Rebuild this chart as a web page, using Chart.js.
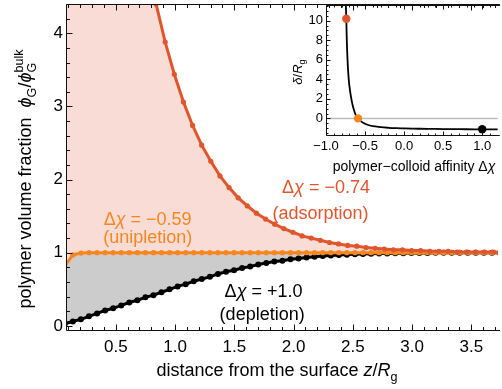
<!DOCTYPE html>
<html><head><meta charset="utf-8">
<script src="https://cdn.jsdelivr.net/npm/chart.js@4.4.0/dist/chart.umd.min.js"></script>
<style>
html,body{margin:0;padding:0;background:#fff;}
#wrap{position:relative;width:502px;height:389px;overflow:hidden;background:#fff;}
#main{position:absolute;left:0;top:0;}
#inset{position:absolute;left:280px;top:0;}
</style></head><body>
<div id="wrap"><canvas id="main" width="502" height="389"></canvas><canvas id="inset" width="222" height="175"></canvas></div>
<script>
// ---------- data ----------
// distance from the surface z/Rg (grid for depletion & unipletion curves)
const zGrid = [0.070,0.138,0.206,0.274,0.342,0.410,0.478,0.546,0.614,0.682,0.750,0.818,0.886,0.954,1.022,1.090,1.158,1.226,1.294,1.362,1.430,1.498,1.566,1.634,1.702,1.770,1.838,1.906,1.974,2.042,2.110,2.178,2.246,2.314,2.382,2.450,2.518,2.586,2.654,2.722,2.790,2.858,2.926,2.994,3.062,3.130,3.198,3.266,3.334,3.402,3.470,3.538,3.606,3.674,3.742];
// Δχ = +1.0 (depletion)
const phiDepletion = [0.03,0.06,0.09,0.13,0.17,0.21,0.24,0.28,0.32,0.35,0.39,0.42,0.46,0.50,0.54,0.57,0.61,0.64,0.67,0.71,0.74,0.76,0.79,0.81,0.84,0.86,0.88,0.89,0.91,0.92,0.935,0.945,0.955,0.962,0.968,0.974,0.979,0.983,0.986,0.989,0.991,0.993,0.994,0.995,0.996,0.997,0.998,0.998,0.999,0.999,0.999,1.0,1.0,1.0,1.0];
// Δχ = −0.59 (unipletion)
const phiUnipletion = [0.82,0.97,0.995,1,1,1,1,1,1,1,1,1,1,1,1,1,1,1,1,1,1,1,1,1,1,1,1,1,1,1,1,1,1,1,1,1,1,1,1,1,1,1,1,1,1,1,1,1,1,1,1,1,1,1,1];
// grid for adsorption curve
const zAds = [0.070,0.147,0.224,0.301,0.378,0.455,0.532,0.609,0.686,0.763,0.840,0.917,0.994,1.071,1.148,1.225,1.302,1.379,1.456,1.533,1.610,1.687,1.764,1.841,1.918,1.995,2.072,2.149,2.226,2.303,2.380,2.457,2.534,2.611,2.688,2.765,2.842,2.919,2.996,3.073,3.150,3.227,3.304,3.381,3.458,3.535,3.612,3.689,3.766];
// Δχ = −0.74 (adsorption)
const phiAdsorption = [19.2,16.4,14.0,12.0,10.3,8.86,7.65,6.63,5.76,5.03,4.40,3.88,3.44,3.06,2.74,2.47,2.25,2.05,1.89,1.75,1.64,1.54,1.46,1.39,1.33,1.28,1.23,1.20,1.17,1.14,1.12,1.10,1.09,1.07,1.06,1.05,1.04,1.04,1.03,1.03,1.02,1.02,1.02,1.01,1.01,1.01,1.01,1.01,1.0];
const xTickValues = [0.5,1.0,1.5,2.0,2.5,3.0,3.5];
const yTickValues = [0,1,2,3,4];

// inset: δ/Rg vs polymer–colloid affinity Δχ
const affinity = [-0.758,-0.752,-0.746,-0.74,-0.735,-0.73,-0.72,-0.71,-0.70,-0.68,-0.66,-0.64,-0.62,-0.60,-0.59,-0.57,-0.55,-0.50,-0.45,-0.40,-0.30,-0.20,-0.10,0.0,0.2,0.4,0.6,0.8,1.0,1.2];
const deltaOverRg = [16.0,13.5,11.6,10.2,8.4,7.1,5.3,4.1,3.3,2.2,1.4,0.8,0.35,0.1,0.0,-0.18,-0.32,-0.55,-0.70,-0.79,-0.90,-0.96,-1.00,-1.03,-1.06,-1.08,-1.10,-1.11,-1.12,-1.13];
const markedAffinity = [-0.74,-0.59,1.0];
const markedDelta = [10.2,0.0,-1.1];
const zeroLineX = [-1.0,1.2];
const zeroLineY = [0,0];
const insetXTicks = [-1.0,-0.5,0.0,0.5,1.0];
const insetYTicks = [0,2,4,6,8,10];

// annotations (text, z, value, series)
const annotText = ['Δχ = −0.74','(adsorption)','Δχ = −0.59','(unipletion)','Δχ = +1.0','(depletion)'];
const annotZ = [2.274,2.228,0.769,0.769,1.747,1.735];
const annotV = [1.81,1.455,1.374,1.128,0.39,0.084];
const annotSeries = ['ads','ads','uni','uni','dep','dep'];

// ---------- styles ----------
const RED = '#E0562C', ORANGE = '#F7861F', PINK = '#F8DCD5', GRAY = '#CCCCCC', BLACK = '#000000';
const seriesColor = {ads: RED, uni: ORANGE, dep: BLACK};
const FONT = '"Liberation Sans", Arial, Helvetica, sans-serif';

function richText(ctx, parts, x, y, size, align, rot, color) {
  const f = p => `${p.it ? 'italic ' : ''}${(p.sc || 1) * size}px ${FONT}`;
  let total = 0;
  for (const p of parts) {
    ctx.font = f(p); p.w = ctx.measureText(p.t).width;
    if (p.stack) { ctx.font = f(p.stack); p.w = Math.max(p.w, ctx.measureText(p.stack.t).width); }
    total += p.w;
  }
  ctx.save();
  ctx.translate(x, y);
  if (rot) ctx.rotate(rot);
  ctx.fillStyle = color; ctx.textBaseline = 'alphabetic'; ctx.textAlign = 'left';
  let cx = align === 'center' ? -total / 2 : 0;
  for (const p of parts) {
    ctx.font = f(p); ctx.fillText(p.t, cx, (p.dy || 0) * size);
    if (p.stack) { ctx.font = f(p.stack); ctx.fillText(p.stack.t, cx, (p.stack.dy || 0) * size); }
    cx += p.w;
  }
  ctx.restore();
}

function range(a, b, step) { const r = []; for (let v = a; v <= b + 1e-9; v += step) r.push(+v.toFixed(4)); return r; }

function framePlugin(cfg) {
  return {
    id: 'frame' + cfg.id,
    afterDatasetsDraw(chart) {
      const {ctx, chartArea: a, scales: {x, y}} = chart;
      ctx.save();
      ctx.strokeStyle = '#111'; ctx.lineWidth = 1;
      const L = Math.round(a.left) + 0.5, B = Math.round(a.bottom) - 0.5, T = Math.round(a.top) + 0.5;
      ctx.beginPath();
      ctx.moveTo(L, T); ctx.lineTo(L, B); ctx.lineTo(a.right + 2, B);
      ctx.moveTo(L, T); ctx.lineTo(a.right + 2, T);
      for (const v of cfg.xMinor) {
        const px = Math.round(x.getPixelForValue(v)) + 0.5;
        if (px < a.left || px > a.right) continue;
        const len = cfg.xMajor.some(m => Math.abs(m - v) < 1e-6) ? cfg.majLen : cfg.minLen;
        ctx.moveTo(px, B); ctx.lineTo(px, B - len);
        ctx.moveTo(px, T); ctx.lineTo(px, T + len);
      }
      for (const v of cfg.yMinor) {
        const py = Math.round(y.getPixelForValue(v)) + 0.5;
        if (py < a.top || py > a.bottom) continue;
        const len = cfg.yMajor.some(m => Math.abs(m - v) < 1e-6) ? cfg.majLen : cfg.minLen;
        ctx.moveTo(L, py); ctx.lineTo(L + len, py);
      }
      ctx.stroke();
      ctx.restore();
      if (cfg.after) cfg.after(chart);
    }
  };
}

const tickFont = {family: FONT, size: 17};

// ---------- main chart ----------
new Chart(document.getElementById('main'), {
  type: 'line',
  data: {
    datasets: [
      {data: zAds.map((z, i) => ({x: z, y: phiAdsorption[i]})), borderColor: RED, backgroundColor: PINK,
       fill: 1, borderWidth: 3, pointRadius: 2.6, pointBackgroundColor: RED, pointBorderWidth: 0, order: 0},
      {data: zGrid.map((z, i) => ({x: z, y: phiUnipletion[i]})), borderColor: ORANGE, backgroundColor: ORANGE,
       fill: false, borderWidth: 3, pointRadius: 2.6, pointBackgroundColor: ORANGE, pointBorderWidth: 0, order: 1},
      {data: zGrid.map((z, i) => ({x: z, y: phiDepletion[i]})), borderColor: BLACK, backgroundColor: GRAY,
       fill: 1, borderWidth: 3, pointRadius: 3, pointBackgroundColor: BLACK, pointBorderWidth: 0, order: 2}
    ]
  },
  options: {
    responsive: false, animation: false, devicePixelRatio: 1,
    layout: {padding: 0},
    elements: {line: {tension: 0}},
    plugins: {legend: {display: false}, tooltip: {enabled: false}, filler: {drawTime: 'beforeDatasetsDraw'}},
    scales: {
      x: {type: 'linear', min: 0.08, max: 3.725,
          grid: {display: false, drawTicks: false}, border: {display: false},
          ticks: {font: tickFont, color: '#000', padding: 6, maxRotation: 0, autoSkip: false,
                  callback: v => v.toFixed(1)},
          afterBuildTicks: s => { s.ticks = xTickValues.map(v => ({value: v})); },
          afterFit: s => { s.height = 58; s.paddingLeft = 0; s.paddingRight = 0; }},
      y: {type: 'linear', min: -0.07, max: 4.4,
          grid: {display: false, drawTicks: false}, border: {display: false},
          ticks: {font: tickFont, color: '#000', padding: 3, autoSkip: false, callback: v => String(v)},
          afterBuildTicks: s => { s.ticks = yTickValues.map(v => ({value: v})); },
          afterFit: s => { s.width = 66; s.paddingTop = 0; s.paddingBottom = 0; }}
    }
  },
  plugins: [framePlugin({
    id: 'main', xMinor: range(0.1, 3.7, 0.1), xMajor: range(0.5, 3.5, 0.5),
    yMinor: range(0, 4.4, 0.2), yMajor: [0, 1, 2, 3, 4], majLen: 6, minLen: 3.5,
    after(chart) {
      const {ctx, scales: {x, y}} = chart;
      for (let i = 0; i < annotText.length; i++) {
        const t = annotText[i];
        const parts = t.startsWith('Δχ') ? [{t: 'Δ'}, {t: 'χ', it: true}, {t: t.slice(2)}] : [{t}];
        richText(ctx, parts, x.getPixelForValue(annotZ[i]), y.getPixelForValue(annotV[i]), 18, 'center', 0, seriesColor[annotSeries[i]]);
      }
      // axis titles
      richText(ctx, [{t: 'distance from the surface '}, {t: 'z', it: true}, {t: '/'}, {t: 'R', it: true}, {t: 'g', sc: 0.7, dy: 0.25}],
               277, 376, 18, 'center', 0, '#000');
      richText(ctx, [{t: 'polymer volume fraction  '}, {t: 'ϕ', it: true}, {t: 'G', sc: 0.7, dy: 0.25}, {t: '/'},
                     {t: 'ϕ', it: true}, {t: 'G', sc: 0.7, dy: 0.25, stack: {t: 'bulk', sc: 0.7, dy: -0.42}}],
               31, 179, 18, 'center', -Math.PI / 2, '#000');
    }
  })]
});

// ---------- inset ----------
const insetFont = {family: FONT, size: 13};
new Chart(document.getElementById('inset'), {
  type: 'line',
  data: {
    datasets: [
      {data: markedAffinity.map((a, i) => ({x: a, y: markedDelta[i]})), showLine: false,
       pointRadius: 4.2, pointBackgroundColor: [RED, ORANGE, BLACK], pointBorderWidth: 0, order: 0},
      {data: affinity.map((a, i) => ({x: a, y: deltaOverRg[i]})), borderColor: BLACK, borderWidth: 1.8,
       pointRadius: 0, fill: false, tension: 0.3, order: 1},
      {data: zeroLineX.map((a, i) => ({x: a, y: zeroLineY[i]})), borderColor: '#BBBBBB', borderWidth: 1.5,
       pointRadius: 0, fill: false, order: 2}
    ]
  },
  options: {
    responsive: false, animation: false, devicePixelRatio: 1,
    layout: {padding: {top: 5, left: 0, right: 0, bottom: 0}},
    plugins: {legend: {display: false}, tooltip: {enabled: false}},
    scales: {
      x: {type: 'linear', min: -1.0, max: 1.2,
          grid: {display: false, drawTicks: false}, border: {display: false},
          ticks: {font: insetFont, color: '#000', padding: 3, maxRotation: 0, autoSkip: false,
                  callback: v => (v < 0 ? '\u2212' : '') + Math.abs(v).toFixed(1)},
          afterBuildTicks: s => { s.ticks = insetXTicks.map(v => ({value: v})); },
          afterFit: s => { s.height = 39; s.paddingLeft = 0; s.paddingRight = 0; }},
      y: {type: 'linear', min: -1.8, max: 11.6,
          grid: {display: false, drawTicks: false}, border: {display: false},
          ticks: {font: insetFont, color: '#000', padding: 3, autoSkip: false, callback: v => String(v)},
          afterBuildTicks: s => { s.ticks = insetYTicks.map(v => ({value: v})); },
          afterFit: s => { s.width = 46; s.paddingTop = 0; s.paddingBottom = 0; }}
    }
  },
  plugins: [framePlugin({
    id: 'inset', xMinor: range(-1.0, 1.2, 0.1), xMajor: insetXTicks,
    yMinor: range(-1.5, 11.5, 0.5), yMajor: insetYTicks, majLen: 4, minLen: 2,
    after(chart) {
      const {ctx} = chart;
      richText(ctx, [{t: 'polymer\u2212colloid affinity Δ'}, {t: 'χ', it: true}], 134, 171, 14, 'center', 0, '#000');
      richText(ctx, [{t: 'δ', it: true}, {t: '/'}, {t: 'R', it: true}, {t: 'g', sc: 0.7, dy: 0.25}],
               22, 72, 13, 'center', -Math.PI / 2, '#000');
    }
  })]
});
</script>
</body></html>
